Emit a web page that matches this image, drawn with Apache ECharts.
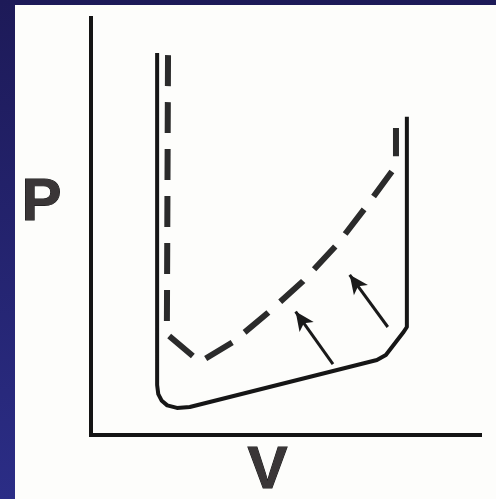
<!DOCTYPE html>
<html>
<head>
<meta charset="utf-8">
<script src="https://cdn.jsdelivr.net/npm/echarts@6/dist/echarts.min.js"></script>
<style>
  html, body { margin: 0; padding: 0; width: 496px; height: 499px; overflow: hidden;
    background: linear-gradient(#1d1a58, #2b2d86); }
  #panel { position: absolute; left: 15px; top: 5px; width: 481px; height: 494px; background: #fdfdfb; }
  #chart { position: absolute; left: 0; top: 0; width: 496px; height: 499px; }
</style>
</head>
<body>
<div id="panel"></div>
<div id="chart"></div>
<script>
// Axis titles
const xTitle = 'V';
const yTitle = 'P';

// Solid P–V curve (volume, pressure)
const solidV = [17.0, 17.0, 17.3, 18.2, 19.6, 22.1, 25.4, 73.5, 75.8, 80.2, 81.2, 81.2];
const solidP = [91.6, 12.0, 9.8, 8.2, 7.1, 6.5, 6.7, 18.0, 19.2, 24.5, 25.9, 76.3];

// Dashed P–V curve (volume, pressure)
const dashV = [19.8, 19.5, 28.0, 36.5, 45.5, 54.5, 63.2, 70.7, 77.6, 78.4, 78.4];
const dashP = [91.1, 24.2, 17.5, 22.3, 29.3, 36.9, 45.6, 54.7, 63.5, 65.9, 73.6];

// Arrows from the solid curve toward the dashed one
const arrowFromV = [62.2, 76.3];
const arrowFromP = [17.0, 25.9];
const arrowToV = [52.6, 66.5];
const arrowToP = [29.6, 38.4];

const pairs = (xs, ys) => xs.map((x, i) => [x, ys[i]]);

const chart = echarts.init(document.getElementById('chart'), null, { renderer: 'canvas' });

chart.setOption({
  backgroundColor: 'transparent',
  animation: false,
  grid: { left: 91, right: 16, top: 18, bottom: 64 },
  xAxis: {
    type: 'value', min: 0, max: 100,
    axisLine: { show: true, lineStyle: { color: '#141414', width: 4, cap: 'square' } },
    axisTick: { show: false }, axisLabel: { show: false }, splitLine: { show: false }
  },
  yAxis: {
    type: 'value', min: 0, max: 100,
    axisLine: { show: true, lineStyle: { color: '#141414', width: 4, cap: 'square' } },
    axisTick: { show: false }, axisLabel: { show: false }, splitLine: { show: false }
  },
  graphic: [
    {
      type: 'text', left: 21, top: 173,
      style: { text: yTitle, font: 'bold 60px "Liberation Sans", Arial, sans-serif',
        fill: '#3a3637', stroke: '#111', lineWidth: 1 }
    },
    {
      type: 'text', left: 247, top: 441,
      style: { text: xTitle, font: 'bold 60px "Liberation Sans", Arial, sans-serif',
        fill: '#3a3637', stroke: '#111', lineWidth: 1 }
    }
  ],
  series: [
    {
      type: 'line',
      data: pairs(solidV, solidP),
      symbol: 'none',
      smooth: false,
      lineStyle: { color: '#161616', width: 4, join: 'round' },
      silent: true,
      markLine: {
        silent: true,
        symbol: ['none', 'arrow'],
        symbolSize: [13, 19],
        label: { show: false },
        lineStyle: { color: '#1a1a1a', width: 3, type: 'solid' },
        data: arrowFromV.map((v, i) => [
          { coord: [v, arrowFromP[i]] },
          { coord: [arrowToV[i], arrowToP[i]] }
        ])
      }
    },
    {
      type: 'line',
      data: pairs(dashV, dashP),
      symbol: 'none',
      lineStyle: { color: '#2b2b2b', width: 6, type: [31, 16], cap: 'butt', join: 'miter' },
      silent: true
    }
  ]
});
</script>
</body>
</html>
